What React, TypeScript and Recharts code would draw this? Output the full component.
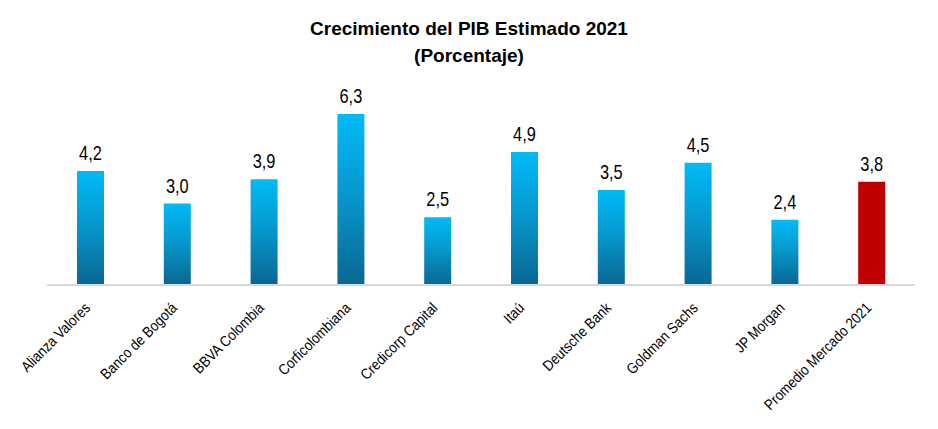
import React from 'react';
import { BarChart, Bar, XAxis, YAxis, LabelList, Cell } from 'recharts';

const categories = [
  'Alianza Valores',
  'Banco de Bogotá',
  'BBVA Colombia',
  'Corficolombiana',
  'Credicorp Capital',
  'Itaú',
  'Deutsche Bank',
  'Goldman Sachs',
  'JP Morgan',
  'Promedio Mercado 2021',
];
const values = [4.2, 3.0, 3.9, 6.3, 2.5, 4.9, 3.5, 4.5, 2.4, 3.8];
const titleLines = ['Crecimiento del PIB Estimado 2021', '(Porcentaje)'];

const data = categories.map((name, i) => ({ name, value: values[i] }));

const FONT = '"Liberation Sans", Arial, sans-serif';

const Tick = (props: any) => {
  const { x, y, payload } = props;
  return (
    <g transform={`translate(${x - 2},${y + 13})`}>
      <text
        textAnchor="end"
        transform="rotate(-45) scale(0.88,1)"
        fontFamily={FONT}
        fontSize={15}
        fill="#000"
        dy={4}
      >
        {payload.value}
      </text>
    </g>
  );
};

const ValueLabel = (props: any) => {
  const { x, y, width, value } = props;
  const cx = x + width / 2;
  return (
    <g transform={`translate(${cx},${y - 11}) scale(0.82,1)`}>
      <text textAnchor="middle" fontFamily={FONT} fontSize={20} fill="#000">
        {Number(value).toFixed(1).replace('.', ',')}
      </text>
    </g>
  );
};

export default function App() {
  return (
    <div style={{ position: 'absolute', left: 0, top: 0, width: 938, height: 429, background: '#fff' }}>
      <div
        style={{
          position: 'absolute',
          left: 0,
          top: 15,
          width: 938,
          textAlign: 'center',
          fontFamily: FONT,
          fontWeight: 'bold',
          fontSize: 19,
          lineHeight: '27px',
          color: '#000',
        }}
      >
        {titleLines.map((t) => (
          <div key={t}>{t}</div>
        ))}
      </div>
      <BarChart
        width={938}
        height={429}
        data={data}
        margin={{ top: 95, right: 23, bottom: 0, left: 47 }}
        barCategoryGap={0}
      >
        <defs>
          <linearGradient id="blueGrad" x1="0" y1="0" x2="0" y2="1">
            <stop offset="0%" stopColor="#00BAF7" />
            <stop offset="45%" stopColor="#0699CF" />
            <stop offset="100%" stopColor="#0A6791" />
          </linearGradient>
        </defs>
        <YAxis hide domain={[0, 7]} />
        <XAxis
          dataKey="name"
          interval={0}
          height={144}
          tick={<Tick />}
          tickLine={false}
          axisLine={{ stroke: '#d9d9d9', strokeWidth: 2 }}
        />
        <Bar dataKey="value" barSize={27} isAnimationActive={false}>
          {data.map((d, i) => (
            <Cell key={d.name} fill={i === data.length - 1 ? '#C00000' : 'url(#blueGrad)'} />
          ))}
          <LabelList dataKey="value" content={<ValueLabel />} />
        </Bar>
      </BarChart>
    </div>
  );
}
